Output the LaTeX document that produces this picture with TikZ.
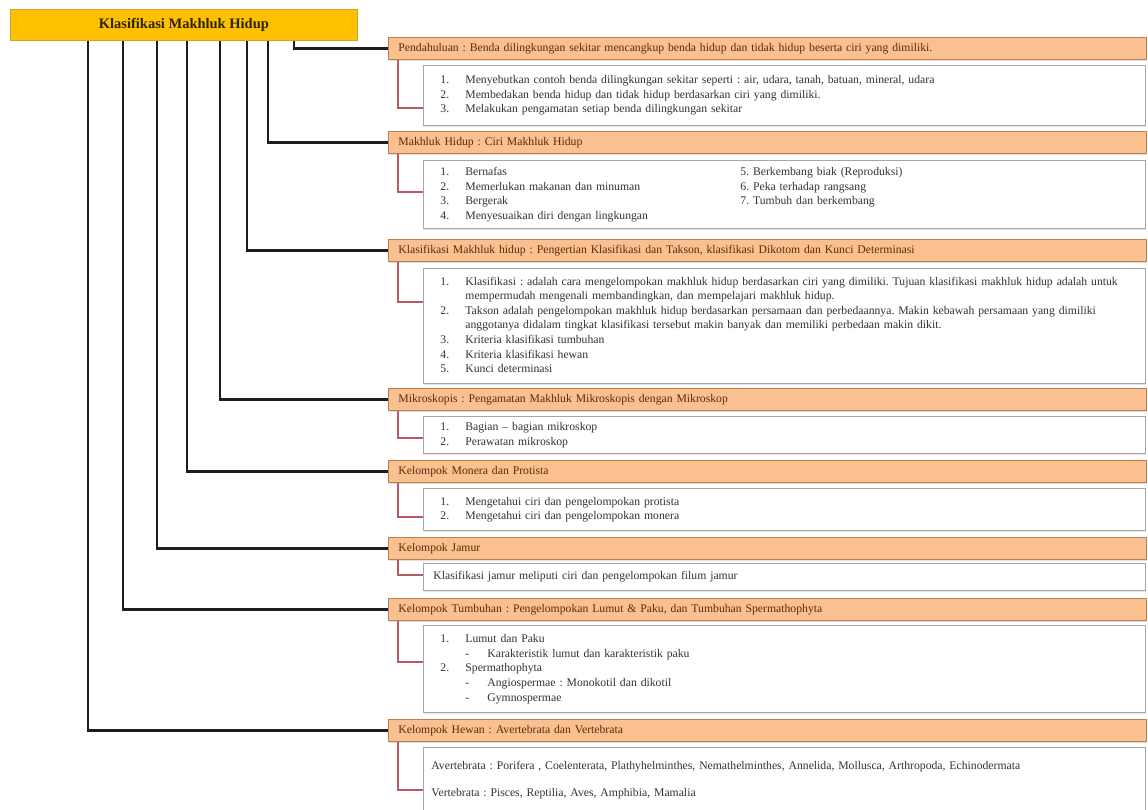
\documentclass[tikz,border=0pt]{standalone}
\usepackage{fontspec}
\setmainfont{Liberation Serif}
\usetikzlibrary{shadows}
\frenchspacing

\definecolor{rootfill}{HTML}{FFC000}
\definecolor{rootline}{HTML}{D9A030}
\definecolor{roottext}{HTML}{2E2200}
\definecolor{headfill}{HTML}{FAC090}
\definecolor{headline}{HTML}{B98052}
\definecolor{headtext}{HTML}{5E2A0C}
\definecolor{bodyline}{HTML}{A6A6A6}
\definecolor{bodytext}{HTML}{333333}
\definecolor{trunkcol}{HTML}{1E1E1E}
\definecolor{bracketcol}{HTML}{B85A64}

\tikzset{
  rootbox/.style={draw=rootline, fill=rootfill, line width=0.8pt, anchor=north west,
    minimum width=347pt, minimum height=31pt, text=roottext,
    font=\fontsize{14.5}{16}\selectfont\bfseries},
  headbox/.style={draw=headline, fill=headfill, line width=0.8pt, anchor=north west,
    minimum height=22pt, text width=738pt, inner xsep=10pt, inner ysep=0pt, align=left,
    text=headtext, font=\fontsize{11.7}{13}\selectfont,
    drop shadow={shadow xshift=1pt, shadow yshift=-1.5pt, opacity=0.25}},
  bodybox/.style={draw=bodyline, fill=white, line width=0.8pt, anchor=north west,
    text width=706pt, inner xsep=8pt, inner ysep=0pt, align=left,
    text=bodytext, font=\fontsize{11.7}{14.6}\selectfont,
    drop shadow={shadow xshift=1pt, shadow yshift=-1.5pt, opacity=0.2}},
  trunk/.style={line width=2.2pt, draw=trunkcol},
  bracket/.style={line width=2pt, draw=bracketcol},
}

\begin{document}
\begin{tikzpicture}[x=1pt, y=-1pt]
  \useasboundingbox (0,0) rectangle (1148,809);

  % judul utama
  \node [rootbox] (root) at (10,9) {Klasifikasi Makhluk Hidup};

  % pendahuluan
  \node [headbox] (h1) at (388,37) {Pendahuluan : Benda dilingkungan sekitar mencangkup benda hidup dan tidak hidup beserta ciri yang dimiliki.};
  \node [bodybox, minimum height=60pt] (b1) at (423,65) {%
    \begin{tabular}{@{\hspace{9pt}}p{25pt}@{}l}
      1. & Menyebutkan contoh benda dilingkungan sekitar seperti : air, udara, tanah, batuan, mineral, udara\\
      2. & Membedakan benda hidup dan tidak hidup berdasarkan ciri yang dimiliki.\\
      3. & Melakukan pengamatan setiap benda dilingkungan sekitar
    \end{tabular}};

  % ciri makhluk hidup
  \node [headbox] (h2) at (388,131) {Makhluk Hidup : Ciri Makhluk Hidup};
  \node [bodybox, minimum height=68pt] (b2) at (423,160) {%
    \begin{tabular}{@{\hspace{9pt}}p{25pt}@{}p{275pt}@{}l}
      1. & Bernafas & 5. Berkembang biak (Reproduksi)\\
      2. & Memerlukan makanan dan minuman & 6. Peka terhadap rangsang\\
      3. & Bergerak & 7. Tumbuh dan berkembang\\
      4. & Menyesuaikan diri dengan lingkungan &
    \end{tabular}};

  % klasifikasi
  \node [headbox] (h3) at (388,239) {Klasifikasi Makhluk hidup : Pengertian Klasifikasi dan Takson, klasifikasi Dikotom dan Kunci Determinasi};
  \node [bodybox, minimum height=115pt] (b3) at (423,268) {%
    \begin{tabular}{@{\hspace{9pt}}p{25pt}@{}l}
      1. & Klasifikasi : adalah cara mengelompokan makhluk hidup berdasarkan ciri yang dimiliki. Tujuan klasifikasi makhluk hidup adalah untuk\\
         & mempermudah mengenali membandingkan, dan mempelajari makhluk hidup.\\
      2. & Takson adalah pengelompokan makhluk hidup berdasarkan persamaan dan perbedaannya. Makin kebawah persamaan yang dimiliki\\
         & anggotanya didalam tingkat klasifikasi tersebut makin banyak dan memiliki perbedaan makin dikit.\\
      3. & Kriteria klasifikasi tumbuhan\\
      4. & Kriteria klasifikasi hewan\\
      5. & Kunci determinasi
    \end{tabular}};

  % mikroskop
  \node [headbox] (h4) at (388,388) {Mikroskopis : Pengamatan Makhluk Mikroskopis dengan Mikroskop};
  \node [bodybox, minimum height=37pt] (b4) at (423,416) {%
    \begin{tabular}{@{\hspace{9pt}}p{25pt}@{}l}
      1. & Bagian -- bagian mikroskop\\
      2. & Perawatan mikroskop
    \end{tabular}};

  % monera dan protista
  \node [headbox] (h5) at (388,460) {Kelompok Monera dan Protista};
  \node [bodybox, minimum height=42pt] (b5) at (423,488) {%
    \begin{tabular}{@{\hspace{9pt}}p{25pt}@{}l}
      1. & Mengetahui ciri dan pengelompokan protista\\
      2. & Mengetahui ciri dan pengelompokan monera
    \end{tabular}};

  % jamur
  \node [headbox] (h6) at (388,537) {Kelompok Jamur};
  \node [bodybox, minimum height=27pt] (b6) at (423,563) {\hspace*{2pt}Klasifikasi jamur meliputi ciri dan pengelompokan filum jamur};

  % tumbuhan
  \node [headbox] (h7) at (388,598) {Kelompok Tumbuhan : Pengelompokan Lumut \& Paku, dan Tumbuhan Spermathophyta};
  \node [bodybox, minimum height=87pt] (b7) at (423,625) {%
    \begin{tabular}{@{\hspace{9pt}}p{25pt}@{}l}
      1. & Lumut dan Paku\\
         & \makebox[22pt][l]{-}Karakteristik lumut dan karakteristik paku\\
      2. & Spermathophyta\\
         & \makebox[22pt][l]{-}Angiospermae : Monokotil dan dikotil\\
         & \makebox[22pt][l]{-}Gymnospermae
    \end{tabular}};

  % hewan
  \node [headbox] (h8) at (388,719) {Kelompok Hewan : Avertebrata dan Vertebrata};
  \node [bodybox, minimum height=66pt] (b8) at (423,747) {%
    Avertebrata : Porifera , Coelenterata, Plathyhelminthes, Nemathelminthes, Annelida, Mollusca, Arthropoda, Echinodermata\\[12.5pt]
    Vertebrata : Pisces, Reptilia, Aves, Amphibia, Mamalia};

  % garis dari judul ke tiap bab
  \draw [trunk] (root.south -| 294,0) |- (h1.west);
  \draw [trunk] (root.south -| 268,0) |- (h2.west);
  \draw [trunk] (root.south -| 247,0) |- (h3.west);
  \draw [trunk] (root.south -| 220,0) |- (h4.west);
  \draw [trunk] (root.south -| 187,0) |- (h5.west);
  \draw [trunk] (root.south -| 157,0) |- (h6.west);
  \draw [trunk] (root.south -| 123,0) |- (h7.west);
  \draw [trunk] (root.south -| 88,0) |- (h8.west);

  % kait merah dari bab ke isinya
  \draw [bracket] (h1.south west -| 398,0) |- (b1.west |- 0,108);
  \draw [bracket] (h2.south west -| 398,0) |- (b2.west |- 0,192);
  \draw [bracket] (h3.south west -| 398,0) |- (b3.west |- 0,302);
  \draw [bracket] (h4.south west -| 398,0) |- (b4.west |- 0,438);
  \draw [bracket] (h5.south west -| 398,0) |- (b5.west |- 0,517);
  \draw [bracket] (h6.south west -| 398,0) |- (b6.west |- 0,575);
  \draw [bracket] (h7.south west -| 398,0) |- (b7.west |- 0,662);
  \draw [bracket] (h8.south west -| 398,0) |- (b8.west |- 0,790);
\end{tikzpicture}
\end{document}
